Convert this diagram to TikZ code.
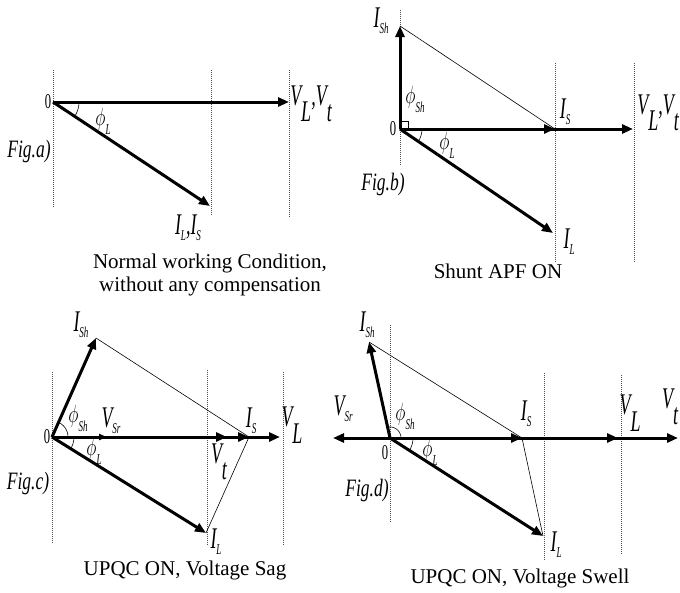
\documentclass[tikz,border=0pt]{standalone}
\usepackage{fontspec}
\setmainfont{Liberation Serif}
\newfontfamily\lf[FakeStretch=0.6]{Liberation Serif}
\newfontfamily\ff[FakeStretch=0.7]{Liberation Serif}
\usetikzlibrary{arrows.meta}
\newcommand{\bsub}[2]{#1\raisebox{-0.55em}{#2}}
\newcommand{\ssub}[2]{#1\raisebox{-0.2em}{\fontsize{15}{15}\selectfont #2}}
\newcommand{\phig}[1]{\scalebox{0.7}[1]{\fontsize{23}{23}\selectfont$\phi$}\raisebox{-0.3em}{\fontsize{15}{15}\selectfont #1}}
\begin{document}
\begin{tikzpicture}[x=1pt,y=-1pt,
  vec/.style={line width=3pt,-{Triangle[length=11pt,width=9pt]}},
  svec/.style={line width=3pt,-{Triangle[length=8pt,width=6pt]}},
  thinl/.style={line width=0.6pt},
  guide/.style={line width=0.6pt,dash pattern=on 1pt off 1pt,black!70},
  lbl/.style={font=\lf\itshape\fontsize{30}{30}\selectfont,inner sep=0},
  zlbl/.style={font=\lf\fontsize{21}{21}\selectfont,inner sep=0},
  flbl/.style={font=\ff\itshape\fontsize{25}{25}\selectfont,inner sep=0},
  captxt/.style={font=\fontsize{21}{23}\selectfont,align=center,inner sep=0}]
\useasboundingbox[fill=white] (0,0) rectangle (680,592);

% ---------------- panel a
\draw[guide] (53,70) -- (53,208);
\draw[guide] (211,70) -- (211,216);
\draw[guide] (289,70) -- (289,218);
\coordinate (Oa) at (53,102);
\coordinate (VLa) at (289,102);
\coordinate (ILa) at (210,206);
\draw[vec] (Oa) -- (VLa);
\draw[vec] (Oa) -- (ILa);
\draw[thinl] plot[domain=0:33.5,samples=20] ({53+26*cos(\x)},{102+26*sin(\x)});
\node[zlbl] (za) at (48,102) {0};
\node[lbl] (la1) at (311,104) {\bsub{V}{L},\bsub{V}{t}};
\node[lbl] (la2) at (103,121) {\phig{L}};
\node[flbl] (la3) at (29,151) {Fig.a)};
\node[lbl] (la4) at (188,228) {\ssub{I}{L},\ssub{I}{S}};
\node[captxt] (capa) at (210,275) {Normal working Condition,\\without any compensation};

% ---------------- panel b
\draw[guide] (400,10) -- (400,165);
\draw[guide] (555,63) -- (555,262);
\draw[guide] (634,63) -- (634,262);
\coordinate (Ob) at (400,129);
\coordinate (ISHb) at (400,26);
\coordinate (ISb) at (555,129);
\coordinate (VLb) at (633,129);
\coordinate (ILb) at (553,233);
\draw[thinl] (ISHb) -- (ISb);
\draw[vec] (Ob) -- (VLb);
\draw[vec] (Ob) -- (ISb);
\draw[vec] (Ob) -- (ISHb);
\draw[vec] (Ob) -- (ILb);
\draw[thinl] (400,121) -- (408,121) -- (408,129);
\draw[thinl] plot[domain=0:34,samples=20] ({400+22*cos(\x)},{129+22*sin(\x)});
\node[zlbl] (zb) at (393,129) {0};
\node[lbl] (lb1) at (381,21) {\ssub{I}{Sh}};
\node[lbl] (lb2) at (415,99) {\phig{Sh}};
\node[lbl] (lb3) at (447,145) {\phig{L}};
\node[lbl] (lb4) at (565,112) {\ssub{I}{S}};
\node[lbl] (lb5) at (658,113) {\bsub{V}{L},\bsub{V}{t}};
\node[lbl] (lb6) at (569,242) {\ssub{I}{L}};
\node[flbl] (lb7) at (383,184) {Fig.b)};
\node[captxt] (capb) at (498,271) {Shunt APF ON};

% ---------------- panel c
\draw[guide] (52,372) -- (52,543);
\draw[guide] (207,370) -- (207,546);
\draw[guide] (283,372) -- (283,546);
\coordinate (Oc) at (52,437);
\coordinate (ISHc) at (96,338);
\coordinate (VSRc) at (107,437);
\coordinate (VTc) at (227,437);
\coordinate (ISc) at (249,437);
\coordinate (VLc) at (280,437);
\coordinate (ILc) at (206,533);
\draw[thinl] (ISHc) -- (ISc);
\draw[thinl] (ILc) -- (ISc);
\draw[vec] (Oc) -- (VLc);
\draw[vec] (Oc) -- (ISc);
\draw[vec] (Oc) -- (VTc);
\draw[svec] (Oc) -- (VSRc);
\draw[vec] (Oc) -- (ISHc);
\draw[vec] (Oc) -- (ILc);
\draw[thinl] plot[domain=0:66,samples=20] ({52+16*cos(\x)},{437-16*sin(\x)});
\draw[thinl] plot[domain=0:32,samples=20] ({52+22*cos(\x)},{437+22*sin(\x)});
\node[zlbl] (zc) at (47,437) {0};
\node[lbl] (lc1) at (81,325) {\ssub{I}{Sh}};
\node[lbl] (lc2) at (78,418) {\phig{Sh}};
\node[lbl] (lc3) at (111,421) {\ssub{V}{Sr}};
\node[lbl] (lc4) at (94,451) {\phig{L}};
\node[lbl] (lc5) at (251,421) {\ssub{I}{S}};
\node[lbl] (lc6) at (292,425) {\bsub{V}{L}};
\node[lbl] (lc7) at (219,462) {\bsub{V}{t}};
\node[lbl] (lc8) at (216,542) {\ssub{I}{L}};
\node[flbl] (lc9) at (28,483) {Fig.c)};
\node[captxt] (capc) at (185,570) {UPQC ON, Voltage Sag};

% ---------------- panel d
\draw[guide] (390,325) -- (390,523);
\draw[guide] (544,373) -- (544,561);
\draw[guide] (621,375) -- (621,555);
\coordinate (Od) at (390,438);
\coordinate (ISHd) at (369,342);
\coordinate (VSRd) at (333,438);
\coordinate (ISd) at (522,438);
\coordinate (VLd) at (618,438);
\coordinate (VTd) at (678,438);
\coordinate (ILd) at (543,536);
\draw[thinl] (ISHd) -- (ISd);
\draw[thinl] (ISd) -- (ILd);
\draw[vec] (Od) -- (VTd);
\draw[vec] (Od) -- (VLd);
\draw[vec] (Od) -- (ISd);
\draw[vec] (Od) -- (VSRd);
\draw[vec] (Od) -- (ISHd);
\draw[vec] (Od) -- (ILd);
\draw[thinl] plot[domain=0:102,samples=20] ({390+11*cos(\x)},{438-11*sin(\x)});
\draw[thinl] plot[domain=0:33,samples=20] ({390+23*cos(\x)},{438+23*sin(\x)});
\node[zlbl] (zd) at (385,453) {0};
\node[lbl] (ld1) at (367,325) {\ssub{I}{Sh}};
\node[lbl] (ld2) at (343,409) {\ssub{V}{Sr}};
\node[lbl] (ld3) at (405,416) {\phig{Sh}};
\node[lbl] (ld4) at (430,452) {\phig{L}};
\node[lbl] (ld5) at (526,414) {\ssub{I}{S}};
\node[lbl] (ld6) at (630,413) {\bsub{V}{L}};
\node[lbl] (ld7) at (670,407) {\bsub{V}{t}};
\node[lbl] (ld8) at (556,545) {\ssub{I}{L}};
\node[flbl] (ld9) at (367,490) {Fig.d)};
\node[captxt] (capd) at (520,578) {UPQC ON, Voltage Swell};
\end{tikzpicture}
\end{document}
